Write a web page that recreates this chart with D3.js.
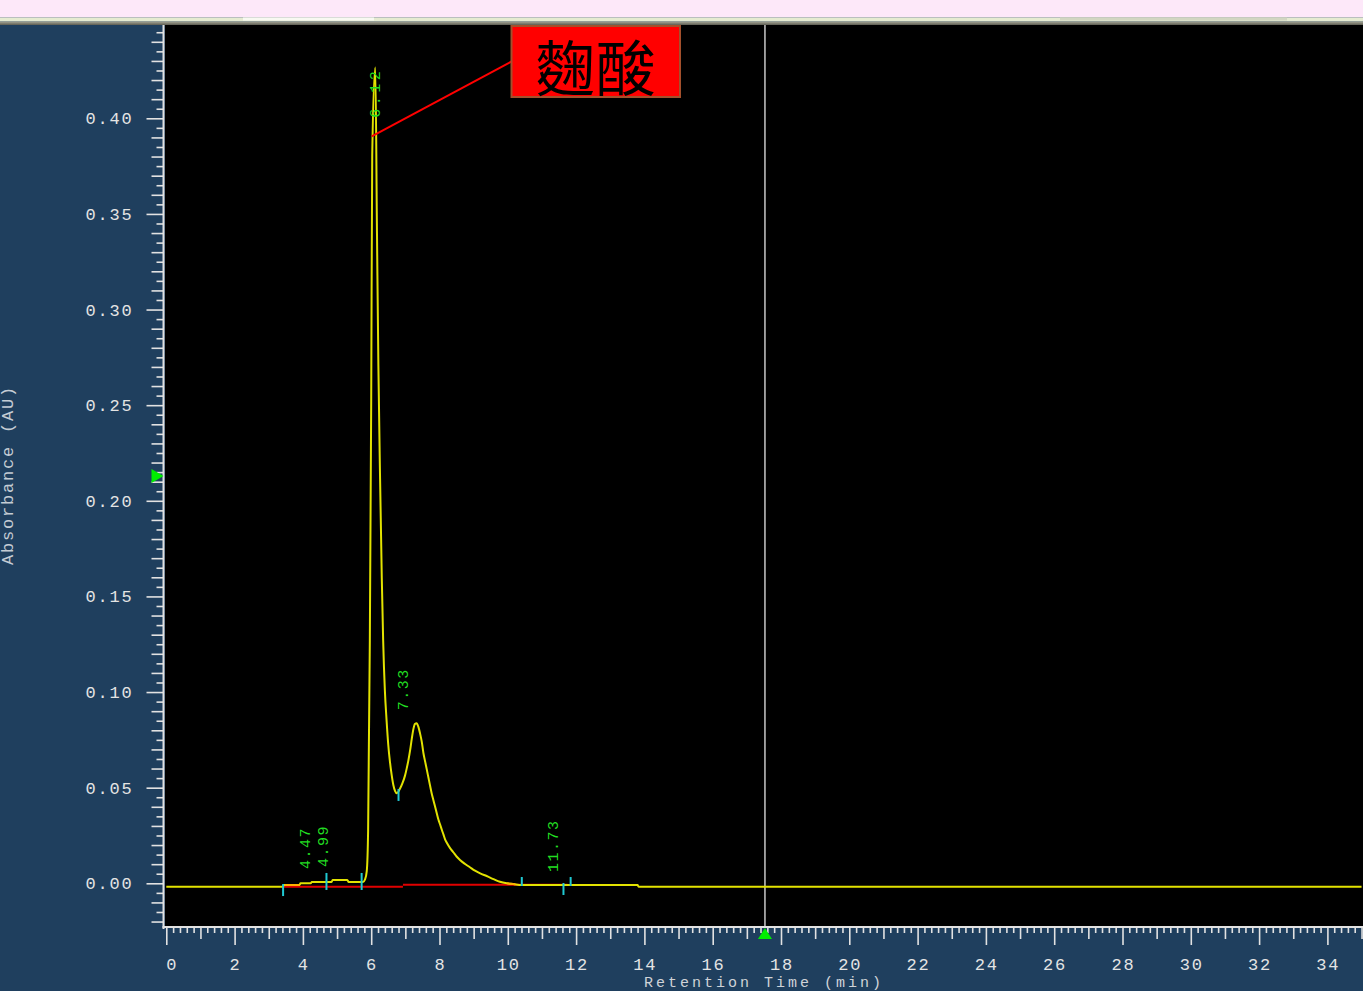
<!DOCTYPE html>
<html>
<head>
<meta charset="utf-8">
<script src="https://cdn.jsdelivr.net/npm/d3@7"></script>
<style>
  html, body { margin: 0; padding: 0; background: #1f3f5e; overflow: hidden; }
  svg { display: block; }
</style>
</head>
<body>
<svg id="chart" width="1363" height="991"></svg>
<script>
// Detector trace: retention time (min) and absorbance (AU)
const timeMin = [
  0.00, 3.40, 3.45, 3.90, 3.93, 4.23, 4.26, 4.84, 4.87, 5.30, 5.34, 5.76,
  5.82, 5.87, 5.91, 5.96, 6.00, 6.03, 6.12, 6.17, 6.21, 6.26, 6.31, 6.35,
  6.40, 6.45, 6.50, 6.55, 6.60, 6.65, 6.70, 6.75, 6.83, 6.91, 6.99, 7.04,
  7.09, 7.14, 7.19, 7.24, 7.28, 7.33, 7.38, 7.43, 7.48, 7.53, 7.58, 7.63,
  7.68, 7.72, 7.77, 7.82, 7.87, 7.92, 7.97, 8.02, 8.07, 8.12, 8.16, 8.21,
  8.31, 8.41, 8.50, 8.60, 8.75, 8.89, 9.04, 9.19, 9.38, 9.58, 9.77, 9.97,
  10.16, 10.41, 13.80, 13.83, 35.00
];
const absorbanceAU = [
  -0.0018, -0.0018, -0.0009, -0.0009, 0.0000, 0.0000, 0.0007, 0.0007, 0.0017, 0.0017, 0.0007, 0.0007,
  0.0020, 0.0064, 0.0279, 0.1270, 0.2518, 0.3808, 0.4265, 0.3390, 0.2710, 0.2114, 0.1596, 0.1271,
  0.1010, 0.0853, 0.0723, 0.0634, 0.0566, 0.0513, 0.0482, 0.0471, 0.0490, 0.0521, 0.0563, 0.0601,
  0.0644, 0.0696, 0.0758, 0.0810, 0.0833, 0.0837, 0.0819, 0.0784, 0.0741, 0.0680, 0.0636, 0.0593,
  0.0549, 0.0514, 0.0471, 0.0436, 0.0401, 0.0366, 0.0332, 0.0306, 0.0279, 0.0253, 0.0231, 0.0213,
  0.0184, 0.0161, 0.0140, 0.0122, 0.0101, 0.0084, 0.0066, 0.0052, 0.0038, 0.0022, 0.0008, 0.0000,
  -0.0004, -0.0009, -0.0009, -0.0018, -0.0018
];

// Integrated peaks
const peakTimes  = [4.47, 4.99, 6.12, 7.33, 11.73];
const peakLabels = ["4.47", "4.99", "6.12", "7.33", "11.73"];

// Peak start / end flags
const boundaryTimes = [3.42, 4.69, 5.72, 6.80, 10.41, 11.63, 11.84];
const boundarySides = ["below", "span", "span", "below", "above", "below", "above"];

// Integration baselines
const baselineStart = [3.42, 6.93];
const baselineEnd   = [6.93, 11.75];
const baselineLevel = [-0.0018, -0.0008];

// Where trace and baseline coincide
const overlapStart = [3.47, 9.98];
const overlapEnd   = [3.90, 10.22];

// Axes
const xTickValues = [0, 2, 4, 6, 8, 10, 12, 14, 16, 18, 20, 22, 24, 26, 28, 30, 32, 34];
const yTickValues = [0.00, 0.05, 0.10, 0.15, 0.20, 0.25, 0.30, 0.35, 0.40];
const xTitle = "Retention Time (min)";
const yTitle = "Absorbance (AU)";

// Cursor and level marker
const cursorTime = 17.53;
const levelMarker = 0.213;

// Compound callout
const compoundName = "麴酸";
const compoundPeak = 6.12;
const compoundLevel = 0.3906;

// ---------------------------------------------------------------------------
const W = 1363, H = 991;
const plot = { left: 165, top: 25, right: 1363, bottom: 926 };
const MONO = "'Liberation Mono', 'DejaVu Sans Mono', monospace";

const svg = d3.select("#chart");

const x = d3.scaleLinear().domain([0, 35]).range([166.3, 1361.55]);
const y = d3.scaleLinear().domain([0, 0.40]).range([883.3, 118.3]);

const bis = d3.bisector(d => d).left;
function valueAt(t) {
  let i = bis(timeMin, t);
  if (i <= 0) return absorbanceAU[0];
  if (i >= timeMin.length) return absorbanceAU[absorbanceAU.length - 1];
  const t0 = timeMin[i - 1], t1 = timeMin[i];
  const v0 = absorbanceAU[i - 1], v1 = absorbanceAU[i];
  return v0 + (v1 - v0) * (t - t0) / (t1 - t0);
}

// window frame
svg.append("rect").attr("width", W).attr("height", H).attr("fill", "#1f3f5e");
svg.append("rect").attr("x", 0).attr("y", 0).attr("width", W).attr("height", 17.5).attr("fill", "#fde8f9");
svg.append("rect").attr("x", 0).attr("y", 17.5).attr("width", W).attr("height", 4).attr("fill", "#e5ebd1");
svg.append("rect").attr("x", 243).attr("y", 17.5).attr("width", 131).attr("height", 3).attr("fill", "#f8f9f2");
svg.append("rect").attr("x", 1060).attr("y", 17.5).attr("width", 227).attr("height", 3).attr("fill", "#d2d6c2");
const grad = svg.append("defs").append("linearGradient")
  .attr("id", "edge").attr("x1", 0).attr("y1", 0).attr("x2", 0).attr("y2", 1);
grad.append("stop").attr("offset", 0).attr("stop-color", "#a8a898");
grad.append("stop").attr("offset", 1).attr("stop-color", "#5d5d52");
svg.append("rect").attr("x", 0).attr("y", 21.5).attr("width", W).attr("height", 3.5).attr("fill", "url(#edge)");

// plot area
svg.append("rect")
  .attr("x", plot.left).attr("y", plot.top)
  .attr("width", plot.right - plot.left).attr("height", plot.bottom - plot.top)
  .attr("fill", "#000");

svg.select("defs").append("clipPath").attr("id", "plotClip")
  .append("rect")
  .attr("x", plot.left).attr("y", plot.top)
  .attr("width", plot.right - plot.left).attr("height", plot.bottom - plot.top);

const gPlot = svg.append("g").attr("clip-path", "url(#plotClip)");

// cursor line
gPlot.append("line")
  .attr("x1", x(cursorTime)).attr("x2", x(cursorTime))
  .attr("y1", plot.top).attr("y2", plot.bottom + 2)
  .attr("stroke", "#c9c9c9").attr("stroke-width", 1.5);

// integration baselines
baselineStart.forEach((t0, i) => {
  gPlot.append("line")
    .attr("x1", x(t0)).attr("x2", x(baselineEnd[i]))
    .attr("y1", y(baselineLevel[i])).attr("y2", y(baselineLevel[i]))
    .attr("stroke", "#e00000").attr("stroke-width", 2);
});

// trace
const trace = timeMin.map((t, i) => [t, absorbanceAU[i]]);
const line = d3.line().x(d => x(d[0])).y(d => y(d[1])).curve(d3.curveMonotoneX);
gPlot.append("path")
  .datum(trace)
  .attr("d", line)
  .attr("fill", "none")
  .attr("stroke", "#e2e200")
  .attr("stroke-width", 2)
  .attr("stroke-linejoin", "miter");

// trace/baseline overlap
overlapStart.forEach((t0, i) => {
  const t1 = overlapEnd[i];
  gPlot.append("line")
    .attr("x1", x(t0)).attr("x2", x(t1))
    .attr("y1", y(valueAt(t0))).attr("y2", y(valueAt(t1)))
    .attr("stroke", "#ffb000").attr("stroke-width", 2);
});

// peak start/end flags
boundaryTimes.forEach((t, i) => {
  const cy = y(valueAt(t));
  const side = boundarySides[i];
  let a, b;
  if (side === "below") { a = cy - 2; b = cy + 10; }
  else if (side === "above") { a = cy - 8; b = cy + 1; }
  else { a = cy - 9; b = cy + 8; }
  gPlot.append("line")
    .attr("x1", x(t)).attr("x2", x(t))
    .attr("y1", a).attr("y2", b)
    .attr("stroke", "#1fc9d2").attr("stroke-width", 2);
});

// peak retention-time labels (vertical)
const labelSize = 15, labelSpacing = 1.5;
peakTimes.forEach((t, i) => {
  const txt = peakLabels[i];
  const len = txt.length * (labelSize * 0.6 + labelSpacing);
  const apexY = y(valueAt(t));
  let bx, by, anchor, spacing = labelSpacing;
  if (apexY - 13 - len < plot.top + 5) {
    // no room above the apex: write it down along the peak
    bx = x(t) + 5; by = apexY; anchor = "end"; spacing = 3.5;
  } else {
    bx = x(t) - 8.5; by = apexY - 13; anchor = "start";
  }
  svg.append("text")
    .attr("x", bx).attr("y", by)
    .attr("transform", `rotate(-90, ${bx}, ${by})`)
    .attr("text-anchor", anchor)
    .attr("font-family", MONO)
    .attr("font-size", labelSize)
    .attr("letter-spacing", spacing)
    .attr("fill", "#22dd22")
    .text(txt);
});

// compound callout
const boxX = 511.5, boxY = 26, boxW = 168.5, boxH = 71;
svg.append("line")
  .attr("x1", x(compoundPeak) - 3.6).attr("y1", y(compoundLevel))
  .attr("x2", boxX).attr("y2", boxY + boxH / 2)
  .attr("stroke", "#ff0000").attr("stroke-width", 2);
svg.append("rect")
  .attr("x", boxX).attr("y", boxY).attr("width", boxW).attr("height", boxH)
  .attr("fill", "#ff0000").attr("stroke", "#a4502c").attr("stroke-width", 2);
svg.append("text")
  .attr("x", boxX + boxW / 2).attr("y", boxY + boxH / 2 + 3)
  .attr("text-anchor", "middle")
  .attr("dominant-baseline", "central")
  .attr("font-family", "'Noto Sans CJK TC', 'Noto Sans CJK SC', sans-serif")
  .attr("font-size", 60)
  .attr("fill", "#000")
  .text(compoundName);

// ---- axes ----
const tickColor = "#e2e2e2";
function styleAxis(g) {
  g.select(".domain").remove();
  g.selectAll(".tick line").attr("stroke", tickColor).attr("stroke-width", 1.6);
  g.selectAll(".tick text").remove();
}

// x ticks every 0.2 min
const xAll = d3.range(0, 176).map(i => ({ v: +(i * 0.2).toFixed(1), i }));
const xMajor = xAll.filter(d => d.i % 10 === 0).map(d => d.v);
const xMid = xAll.filter(d => d.i % 10 !== 0 && d.i % 5 === 0).map(d => d.v);
const xMinor = xAll.filter(d => d.i % 5 !== 0).map(d => d.v);
[[xMajor, 18], [xMid, 12], [xMinor, 6]].forEach(([vals, len]) => {
  svg.append("g").attr("transform", `translate(0, ${plot.bottom + 1})`)
    .call(d3.axisBottom(x).tickValues(vals).tickSize(len).tickSizeOuter(0))
    .call(styleAxis);
});

// y ticks every 0.005 AU
const yAll = d3.range(-4, 90).map(i => ({ v: +(i * 0.005).toFixed(3), i }));
const yMajor = yAll.filter(d => d.i % 10 === 0).map(d => d.v);
const yMid = yAll.filter(d => d.i % 10 !== 0 && d.i % 2 === 0).map(d => d.v);
const yMinor = yAll.filter(d => d.i % 2 !== 0).map(d => d.v);
[[yMajor, 17], [yMid, 12], [yMinor, 7]].forEach(([vals, len]) => {
  svg.append("g").attr("transform", `translate(163.5, 0)`)
    .call(d3.axisLeft(y).tickValues(vals).tickSize(len).tickSizeOuter(0))
    .call(styleAxis);
});

// axis lines
svg.append("rect").attr("x", 162.5).attr("y", plot.top).attr("width", 2).attr("height", plot.bottom - plot.top + 3)
  .attr("fill", tickColor);
svg.append("rect").attr("x", 162.5).attr("y", plot.bottom).attr("width", W - 162.5).attr("height", 2)
  .attr("fill", tickColor);

// tick labels
const axisFont = 17, axisSpacing = 1.8;
svg.append("g").selectAll("text")
  .data(xTickValues).join("text")
  .attr("x", d => d === 0 ? x(d) : x(d) + axisSpacing / 2)
  .attr("y", 969.5)
  .attr("text-anchor", d => d === 0 ? "start" : "middle")
  .attr("font-family", MONO).attr("font-size", axisFont)
  .attr("letter-spacing", axisSpacing)
  .attr("fill", "#e4e4e4")
  .text(d => String(d));

svg.append("g").selectAll("text")
  .data(yTickValues).join("text")
  .attr("x", 133.5)
  .attr("y", d => y(d) + 6)
  .attr("text-anchor", "end")
  .attr("font-family", MONO).attr("font-size", axisFont)
  .attr("letter-spacing", axisSpacing)
  .attr("fill", "#e4e4e4")
  .text(d => d.toFixed(2));

// axis titles
svg.append("text")
  .attr("x", 764).attr("y", 987)
  .attr("text-anchor", "middle")
  .attr("font-family", MONO).attr("font-size", 15)
  .attr("letter-spacing", 3)
  .attr("fill", "#cfd3d8")
  .text(xTitle);

svg.append("text")
  .attr("x", 13).attr("y", 475)
  .attr("transform", "rotate(-90, 13, 475)")
  .attr("text-anchor", "middle")
  .attr("font-family", MONO).attr("font-size", axisFont)
  .attr("letter-spacing", axisSpacing)
  .attr("fill", "#c4ccd4")
  .text(yTitle);

// cursor and level markers
const cx = x(cursorTime);
svg.append("path")
  .attr("d", `M${cx - 7},939 L${cx + 7},939 L${cx},928 Z`)
  .attr("fill", "#00ee00");
const ly = y(levelMarker);
svg.append("path")
  .attr("d", `M151.5,${ly - 7} L151.5,${ly + 7} L163.5,${ly} Z`)
  .attr("fill", "#00ee00");
</script>
</body>
</html>
